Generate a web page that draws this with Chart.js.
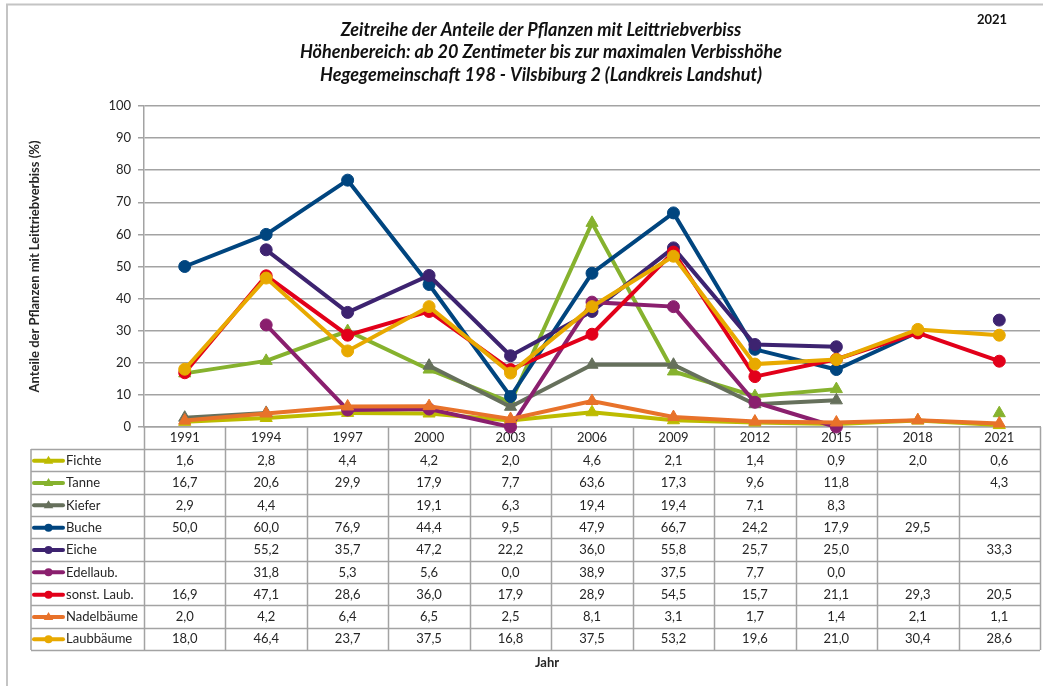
<!DOCTYPE html>
<html>
<head>
<meta charset="utf-8">
<script src="https://cdn.jsdelivr.net/npm/chart.js@4.4.1/dist/chart.umd.min.js"></script>
<style>
  html, body { margin: 0; padding: 0; background: #ffffff; }
  #wrap { width: 1048px; height: 686px; position: relative; }
</style>
</head>
<body>
<div id="wrap"><canvas id="c" width="1048" height="686"></canvas></div>
<script>
// ---------- DATA ----------
const years = ['1991','1994','1997','2000','2003','2006','2009','2012','2015','2018','2021'];
const yTicks = [0,10,20,30,40,50,60,70,80,90,100];

const fichte      = [1.6, 2.8, 4.4, 4.2, 2.0, 4.6, 2.1, 1.4, 0.9, 2.0, 0.6];
const tanne       = [16.7, 20.6, 29.9, 17.9, 7.7, 63.6, 17.3, 9.6, 11.8, null, 4.3];
const kiefer      = [2.9, 4.4, null, 19.1, 6.3, 19.4, 19.4, 7.1, 8.3, null, null];
const buche       = [50.0, 60.0, 76.9, 44.4, 9.5, 47.9, 66.7, 24.2, 17.9, 29.5, null];
const eiche       = [null, 55.2, 35.7, 47.2, 22.2, 36.0, 55.8, 25.7, 25.0, null, 33.3];
const edellaub    = [null, 31.8, 5.3, 5.6, 0.0, 38.9, 37.5, 7.7, 0.0, null, null];
const sonstLaub   = [16.9, 47.1, 28.6, 36.0, 17.9, 28.9, 54.5, 15.7, 21.1, 29.3, 20.5];
const nadelbaeume = [2.0, 4.2, 6.4, 6.5, 2.5, 8.1, 3.1, 1.7, 1.4, 2.1, 1.1];
const laubbaeume  = [18.0, 46.4, 23.7, 37.5, 16.8, 37.5, 53.2, 19.6, 21.0, 30.4, 28.6];

const seriesNames = ['Fichte','Tanne','Kiefer','Buche','Eiche','Edellaub.','sonst. Laub.','Nadelbäume','Laubbäume'];
const seriesData  = [fichte, tanne, kiefer, buche, eiche, edellaub, sonstLaub, nadelbaeume, laubbaeume];

const titleLines = [
  'Zeitreihe der Anteile der Pflanzen mit Leittriebverbiss',
  'Höhenbereich: ab 20 Zentimeter bis zur maximalen Verbisshöhe',
  'Hegegemeinschaft 198 - Vilsbiburg 2 (Landkreis Landshut)'
];
const yearLabel = '2021';
const yAxisTitle = 'Anteile der Pflanzen mit Leittriebverbiss (%)';
const xAxisTitle = 'Jahr';

// ---------- STYLES ----------
const seriesColors = ['#bdbb00','#86b22e','#66705c','#00457f','#3d2370','#8a1f6e','#e2001a','#e8722a','#e8a900'];
const seriesShapes = ['triangle','triangle','triangle','circle','circle','circle','circle','triangle','circle'];
const FONT = "Lato, 'Liberation Sans', sans-serif";
const GRID = '#a3a3a3';
const TEXT = '#262626';

const datasets = seriesNames.map((n, i) => ({
  label: n,
  data: seriesData[i],
  borderColor: seriesColors[i],
  backgroundColor: seriesColors[i],
  pointBackgroundColor: seriesColors[i],
  pointBorderColor: seriesColors[i],
  pointStyle: seriesShapes[i],
  pointRadius: seriesShapes[i] === 'triangle' ? 7 : 6,
  pointBorderWidth: 1,
  borderWidth: 4,
  tension: 0,
  spanGaps: false,
  clip: false,
  order: seriesNames.length - 1 - i
}));

function fmt(v) { return v === null || v === undefined ? '' : v.toFixed(1).replace('.', ','); }

function drawMarker(ctx, shape, x, y, r, color) {
  ctx.fillStyle = color;
  ctx.beginPath();
  if (shape === 'circle') {
    ctx.arc(x, y, r, 0, Math.PI * 2);
  } else {
    ctx.moveTo(x, y - r);
    ctx.lineTo(x + r * 0.95, y + r * 0.6);
    ctx.lineTo(x - r * 0.95, y + r * 0.6);
    ctx.closePath();
  }
  ctx.fill();
}

const decorPlugin = {
  id: 'decor',
  beforeDatasetsDraw(chart) {
    const ctx = chart.ctx;
    const xs = chart.scales.x;
    const n = years.length;
    const colW = (xs.right - xs.left) / n;
    const headTop = chart.chartArea.bottom;
    const headBottom = 449;
    const tableLeft = 31;
    const rowH = 22.33;
    const tableBottom = headBottom + rowH * seriesNames.length;

    ctx.save();
    ctx.strokeStyle = GRID;
    ctx.lineWidth = 1.5;
    ctx.beginPath();
    for (let k = 0; k <= n; k++) {
      const x = Math.round(xs.left + k * colW) + 0.5;
      ctx.moveTo(x, headTop);
      ctx.lineTo(x, tableBottom);
    }
    ctx.moveTo(tableLeft, headBottom);
    ctx.lineTo(tableLeft, tableBottom);
    for (let r = 0; r <= seriesNames.length; r++) {
      const y = Math.round(headBottom + r * rowH) + 0.5;
      ctx.moveTo(tableLeft, y);
      ctx.lineTo(xs.right, y);
    }
    ctx.stroke();

    ctx.font = '13px ' + FONT;
    ctx.textBaseline = 'middle';
    for (let r = 0; r < seriesNames.length; r++) {
      const cy = headBottom + r * rowH + rowH / 2 + 0.5;
      ctx.strokeStyle = seriesColors[r];
      ctx.lineWidth = 4;
      ctx.lineCap = 'round';
      ctx.beginPath();
      ctx.moveTo(34, cy);
      ctx.lineTo(63, cy);
      ctx.stroke();
      drawMarker(ctx, seriesShapes[r], 48.5, cy, seriesShapes[r] === 'circle' ? 4 : 5, seriesColors[r]);
      ctx.fillStyle = TEXT;
      ctx.textAlign = 'left';
      ctx.fillText(seriesNames[r], 66, cy);
      ctx.textAlign = 'center';
      const vals = seriesData[r];
      for (let c = 0; c < n; c++) {
        const x = xs.getPixelForTick(c);
        ctx.fillText(fmt(vals[c]), x, cy);
      }
    }

    ctx.font = 'bold 13px ' + FONT;
    ctx.textAlign = 'center';
    ctx.fillText(xAxisTitle, 547, 663);
    ctx.restore();
  },
  afterDraw(chart) {
    const ctx = chart.ctx;
    ctx.save();
    ctx.strokeStyle = '#c4c4c4';
    ctx.lineWidth = 2;
    ctx.beginPath();
    ctx.moveTo(7, 686);
    ctx.lineTo(7, 4.5);
    ctx.lineTo(1043, 4.5);
    ctx.stroke();
    ctx.fillStyle = '#111';
    ctx.textAlign = 'center';
    ctx.textBaseline = 'middle';
    ctx.font = 'italic bold 18px ' + FONT;
    titleLines.forEach((t, i) => ctx.fillText(t, 541, 30 + i * 22.5));
    ctx.font = 'bold 13px ' + FONT;
    ctx.fillText(yearLabel, 992, 20);
    ctx.restore();
  }
};

new Chart(document.getElementById('c'), {
  type: 'line',
  data: { labels: years, datasets },
  plugins: [decorPlugin],
  options: {
    responsive: false,
    animation: false,
    devicePixelRatio: 1,
    layout: { padding: { top: 106, right: 6, bottom: 237, left: 0 } },
    plugins: { legend: { display: false }, title: { display: false }, tooltip: { enabled: false } },
    scales: {
      x: {
        type: 'category',
        offset: true,
        afterFit(s) { s.height = 22; },
        grid: { display: false, drawTicks: false },
        border: { display: true, color: GRID, width: 1.5 },
        ticks: { color: TEXT, font: { family: FONT, size: 13 }, padding: 3, maxRotation: 0, autoSkip: false }
      },
      y: {
        min: 0, max: 100,
        afterFit(s) { s.width = 144; },
        afterBuildTicks(s) { s.ticks = yTicks.map(v => ({ value: v })); },
        grid: { color: GRID, lineWidth: 1.5, tickLength: 6, drawTicks: true },
        border: { display: true, color: GRID, width: 1.5 },
        ticks: { color: TEXT, font: { family: FONT, size: 13 }, padding: 7 },
        title: { display: true, text: yAxisTitle, color: TEXT, font: { family: FONT, size: 13, weight: 'bold' }, padding: { top: 27, bottom: 0 } }
      }
    }
  }
});
</script>
</body>
</html>
